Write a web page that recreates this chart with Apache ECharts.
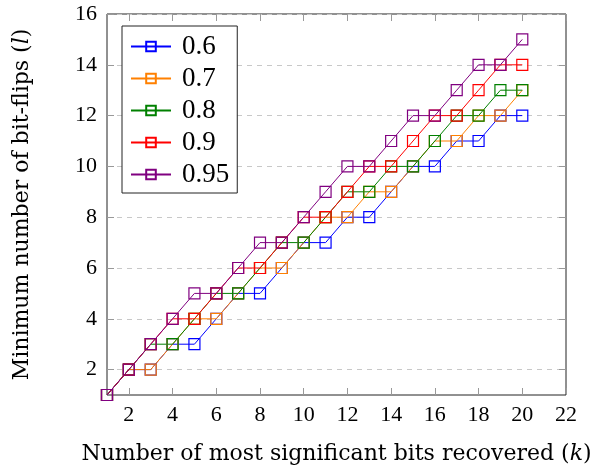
<!DOCTYPE html>
<html>
<head>
<meta charset="utf-8">
<title>Minimum number of bit-flips</title>
<script src="https://cdn.jsdelivr.net/npm/echarts@6/dist/echarts.min.js"></script>
<style>
  html, body { margin: 0; padding: 0; background: #fff; }
  #main { width: 611px; height: 470px; }
</style>
</head>
<body>
<div id="main"></div>
<script>
// k = number of most significant bits recovered
var kBits = [1, 2, 3, 4, 5, 6, 7, 8, 9, 10, 11, 12, 13, 14, 15, 16, 17, 18, 19, 20];
// minimum number of bit-flips, one list per threshold
var flips06  = [1, 2, 2, 3, 3, 4, 5, 5, 6, 7, 7, 8, 8, 9, 10, 10, 11, 11, 12, 12];
var flips07  = [1, 2, 2, 3, 4, 4, 5, 6, 6, 7, 8, 8, 9, 9, 10, 11, 11, 12, 12, 13];
var flips08  = [1, 2, 3, 3, 4, 5, 5, 6, 7, 7, 8, 9, 9, 10, 10, 11, 12, 12, 13, 13];
var flips09  = [1, 2, 3, 4, 4, 5, 6, 6, 7, 8, 8, 9, 10, 10, 11, 12, 12, 13, 14, 14];
var flips095 = [1, 2, 3, 4, 5, 5, 6, 7, 7, 8, 9, 10, 10, 11, 12, 12, 13, 14, 14, 15];
var seriesNames = ['0.6', '0.7', '0.8', '0.9', '0.95'];
var xTicks = [2, 4, 6, 8, 10, 12, 14, 16, 18, 20, 22];
var yTicks = [2, 4, 6, 8, 10, 12, 14, 16];

var colors = ['#0000ff', '#ff8000', '#008000', '#ff0000', '#800080'];
var serif = 'Liberation Serif';
var nameFont = 'DejaVu Serif';

(function(){
    var chart = echarts.init(document.getElementById('main'));
    var all = [flips06, flips07, flips08, flips09, flips095];

    var series = [];
    all.forEach(function(vals, i){
        var pts = [];
        kBits.forEach(function(k, j){ pts.push([k, vals[j]]); });
        series.push({
            name: seriesNames[i],
            type: 'line',
            data: pts,
            symbol: 'rect',
            symbolSize: 11,
            showSymbol: true,
            animation: false,
            lineStyle: { color: colors[i], width: 1 },
            itemStyle: { color: 'rgba(255,255,255,0)', borderColor: colors[i], borderWidth: 1.2 },
            emphasis: { disabled: true }
        });
    });

    function xAx(pos, labels){
        return {
            type: 'value', position: pos, min: 1, max: 22,
            axisLine: { show: false },
            axisTick: { show: true, inside: true, length: 7, customValues: xTicks,
                        lineStyle: { color: '#999' } },
            axisLabel: { show: labels, customValues: xTicks, margin: 9,
                         fontFamily: serif, fontSize: 22, color: '#000' },
            splitLine: { show: false }
        };
    }
    function yAx(pos, labels){
        return {
            type: 'value', position: pos, min: 1, max: 16,
            axisLine: { show: false },
            axisTick: { show: true, inside: true, length: 7, customValues: yTicks,
                        lineStyle: { color: '#999' } },
            axisLabel: { show: labels, customValues: yTicks, margin: 10,
                         fontFamily: serif, fontSize: 22, color: '#000' },
            splitLine: { show: labels, lineStyle: { color: '#c8c8c8', type: [5, 5], width: 1 } }
        };
    }
    // plain + italic pieces, so the whole title keeps the serif face
    var nameRich = {
        n: { fontFamily: nameFont, fontSize: 22, color: '#000' },
        i: { fontFamily: nameFont, fontSize: 22, color: '#000', fontStyle: 'italic' }
    };

    var xBottom = xAx('bottom', true);
    xBottom.name = '{n|Number of most significant bits recovered (}{i|k}{n|)}';
    xBottom.nameLocation = 'middle';
    xBottom.nameGap = 48;
    xBottom.nameTextStyle = { fontFamily: nameFont, fontSize: 22, color: '#000', rich: nameRich };
    var yLeft = yAx('left', true);
    yLeft.name = '{n|Minimum number of bit-flips (}{i|l}{n|)}';
    yLeft.nameLocation = 'middle';
    yLeft.nameGap = 74;
    yLeft.nameTextStyle = { fontFamily: nameFont, fontSize: 22, color: '#000', rich: nameRich };

    var option = {
        backgroundColor: '#fff',
        animation: false,
        grid: { left: 107, right: 45, top: 14, bottom: 75, show: true,
                borderColor: '#222', borderWidth: 1, backgroundColor: 'transparent' },
        legend: {
            data: seriesNames,
            orient: 'vertical',
            left: 122, top: 26,
            itemWidth: 40, itemHeight: 12, itemGap: 5,
            padding: [7, 8, 5, 8],
            backgroundColor: '#fff',
            borderColor: '#222', borderWidth: 1,
            textStyle: { fontFamily: serif, fontSize: 27, lineHeight: 27, color: '#000',
                         padding: [0, 0, 0, 6] }
        },
        xAxis: [xBottom, xAx('top', false)],
        yAxis: [yLeft, yAx('right', false)],
        series: series
    };
    chart.setOption(option);
})();
</script>
</body>
</html>
